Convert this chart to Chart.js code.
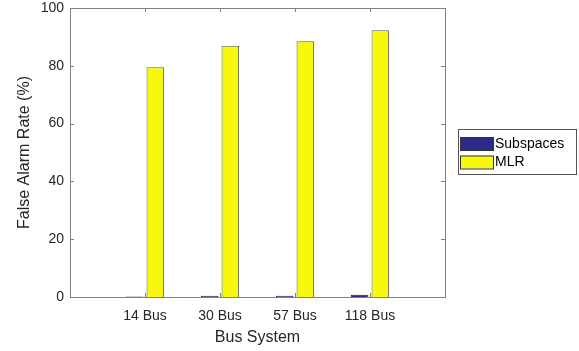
<!DOCTYPE html>
<html>
<head>
<meta charset="utf-8">
<script src="https://cdn.jsdelivr.net/npm/chart.js@4.4.1/dist/chart.umd.min.js"></script>
<style>
html,body{margin:0;padding:0;background:#fff;}
#wrap{width:579px;height:351px;position:relative;}
</style>
</head>
<body>
<div id="wrap"><canvas id="c" width="579" height="351"></canvas></div>
<script>
const categories = ['14 Bus', '30 Bus', '57 Bus', '118 Bus'];
const subspaces = [0.2, 0.4, 0.4, 0.8];
const mlr = [79.5, 86.9, 88.5, 92.3];
const yTicks = [0, 20, 40, 60, 80, 100];
const seriesNames = ['Subspaces', 'MLR'];

const FONT = '"Liberation Sans", Arial, Helvetica, sans-serif';
const TXT = '#262626';
const AX = '#808080';

const toPts = arr => arr.map((v, i) => ({x: i + 1, y: v}));

const boxPlugin = {
  id: 'matlabBox',
  afterDraw(chart) {
    const {ctx, chartArea: a, scales} = chart;
    ctx.save();
    ctx.strokeStyle = AX;
    ctx.lineWidth = 1;
    ctx.strokeRect(Math.round(a.left) + 0.5, Math.round(a.top) + 0.5,
      Math.round(a.right - a.left), Math.round(a.bottom - a.top));
    const tl = 4;
    ctx.beginPath();
    yTicks.forEach(v => {
      const y = Math.round(scales.y.getPixelForValue(v)) + 0.5;
      ctx.moveTo(a.left, y); ctx.lineTo(a.left + tl, y);
      ctx.moveTo(a.right, y); ctx.lineTo(a.right - tl, y);
    });
    categories.forEach((c, i) => {
      const x = Math.round(scales.x.getPixelForValue(i + 1)) + 0.5;
      ctx.moveTo(x, a.bottom); ctx.lineTo(x, a.bottom - tl);
      ctx.moveTo(x, a.top); ctx.lineTo(x, a.top + tl);
    });
    ctx.stroke();

    // legend
    const ds = chart.data.datasets;
    const lx = 458, ly = 129, lw = 118, lh = 45;
    ctx.fillStyle = '#fff';
    ctx.fillRect(lx, ly, lw, lh);
    ctx.strokeStyle = '#555';
    ctx.strokeRect(lx + 0.5, ly + 0.5, lw, lh);
    ctx.font = '14px ' + FONT;
    ctx.textBaseline = 'middle';
    ds.forEach((d, i) => {
      const sy = ly + 8 + i * 18.5;
      ctx.fillStyle = d.backgroundColor;
      ctx.fillRect(lx + 2, sy, 33, 13);
      ctx.strokeStyle = '#333';
      ctx.strokeRect(lx + 2.5, sy + 0.5, 33, 13);
      ctx.fillStyle = '#000';
      ctx.fillText(d.label, lx + 37, sy + 7);
    });
    ctx.restore();
  }
};

new Chart(document.getElementById('c'), {
  type: 'bar',
  data: {
    datasets: [
      {label: seriesNames[0], data: toPts(subspaces), backgroundColor: '#2c2a88', borderColor: '#222', borderWidth: 1},
      {label: seriesNames[1], data: toPts(mlr), backgroundColor: '#f8f80c', borderColor: '#606060', borderWidth: 1}
    ]
  },
  options: {
    responsive: false,
    animation: false,
    devicePixelRatio: 1,
    datasets: {bar: {categoryPercentage: 0.55, barPercentage: 0.85}},
    layout: {padding: {top: 8, right: 134, left: 0, bottom: 0}},
    plugins: {legend: {display: false}, tooltip: {enabled: false}},
    scales: {
      x: {
        type: 'linear', min: 0, max: 5, offset: false,
        afterFit: s => { s.height = 54; s.paddingLeft = 0; s.paddingRight = 0; },
        afterBuildTicks: s => { s.ticks = [0,1,2,3,4,5].map(v => ({value: v})); },
        grid: {display: false, drawTicks: false, offset: false},
        border: {display: false},
        ticks: {
          autoSkip: false, maxRotation: 0, padding: 11,
          color: TXT, font: {family: FONT, size: 14},
          callback: v => categories[v - 1] || ''
        },
        title: {display: true, text: 'Bus System', color: TXT, font: {family: FONT, size: 16}, padding: {top: 4, bottom: 4}}
      },
      y: {
        min: 0, max: 100,
        afterFit: s => { s.width = 70; s.paddingTop = 0; s.paddingBottom = 0; },
        afterBuildTicks: s => { s.ticks = yTicks.map(v => ({value: v})); },
        grid: {display: false, drawTicks: false},
        border: {display: false},
        ticks: {padding: 6, color: TXT, font: {family: FONT, size: 14}},
        title: {display: true, text: 'False Alarm Rate (%)', color: TXT, font: {family: FONT, size: 16}, padding: {top: 15, bottom: 4}}
      }
    }
  },
  plugins: [boxPlugin]
});
</script>
</body>
</html>
